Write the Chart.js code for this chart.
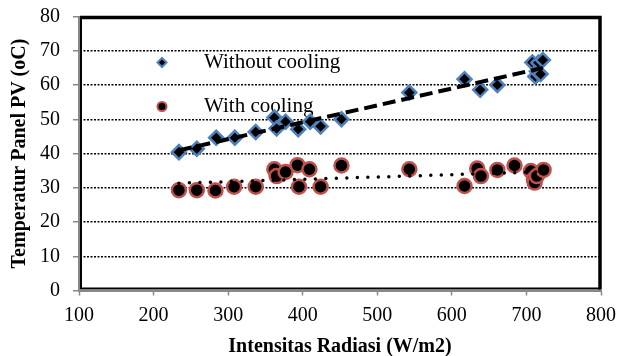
<!DOCTYPE html>
<html>
<head>
<meta charset="utf-8">
<script src="https://cdn.jsdelivr.net/npm/chart.js@4"></script>
<style>
  html, body { margin: 0; padding: 0; background: #fff; }
</style>
</head>
<body>
<canvas id="chartSuhu" width="619" height="356"></canvas>
<script>
/* data */
const radiasiTanpa = [234, 258, 284, 309, 337, 362, 365, 377, 394, 410, 424, 452, 543, 617, 638, 661, 708, 712, 714, 716, 719, 722];
const suhuTanpa = [40.4, 41.4, 44.6, 44.6, 46.3, 50.5, 47.3, 49.3, 47.1, 49.3, 47.9, 50.0, 57.8, 61.7, 58.6, 60.0, 66.6, 62.5, 64.0, 66.5, 63.2, 67.3];

const radiasiDengan = [234, 258, 283, 308, 337, 362, 365, 377, 393, 395, 409, 424, 452, 543, 617, 634, 639, 661, 684, 706, 710, 711, 714, 723];
const suhuDengan = [29.3, 29.3, 29.2, 30.3, 30.3, 35.4, 33.4, 34.6, 36.6, 30.3, 35.4, 30.3, 36.5, 35.4, 30.5, 35.6, 33.4, 35.2, 36.5, 34.9, 32.5, 31.5, 33.4, 35.2];

const labelTanpa = "Without cooling";
const labelDengan = "With cooling";

const biru = "#4F81BD";
const merah = "#C0504D";
const fontSerif = "'Liberation Serif', 'Times New Roman', serif";

function toPoints(xs, ys) {
    return xs.map((x, i) => ({ x: x, y: ys[i] }));
}

/* linear trendline like Excel, least squares from the series */
function trendLine(xs, ys) {
    const n = xs.length;
    const mx = xs.reduce((a, b) => a + b, 0) / n;
    const my = ys.reduce((a, b) => a + b, 0) / n;
    let sxy = 0, sxx = 0;
    for (let i = 0; i < n; i++) {
        sxy += (xs[i] - mx) * (ys[i] - my);
        sxx += (xs[i] - mx) * (xs[i] - mx);
    }
    const b = sxy / sxx;
    const a = my - b * mx;
    const x0 = Math.min(...xs), x1 = Math.max(...xs);
    return [{ x: x0, y: a + b * x0 }, { x: x1, y: a + b * x1 }];
}

/* frame around plot area + legend inside plot */
const framePlugin = {
    id: "frameLegend",
    beforeDatasetsDraw(chart) {
        const ctx = chart.ctx;
        const a = chart.chartArea;
        ctx.save();
        ctx.strokeStyle = "#000";
        ctx.lineWidth = 2;
        ctx.beginPath();
        ctx.moveTo(a.left + 2, a.top);
        ctx.lineTo(a.left + 2, a.bottom - 2);
        ctx.lineTo(a.right, a.bottom - 2);
        ctx.stroke();
        ctx.lineWidth = 3.5;
        ctx.beginPath();
        ctx.moveTo(a.left + 1, a.top + 1);
        ctx.lineTo(a.right - 1, a.top + 1);
        ctx.lineTo(a.right - 1, a.bottom - 1);
        ctx.stroke();

        // legend
        const lx = a.left + 83;
        const tx = a.left + 125;
        const y1 = a.top + 46;
        const y2 = a.top + 90;
        ctx.fillStyle = "#000";
        ctx.lineWidth = 2;
        ctx.strokeStyle = biru;
        ctx.beginPath();
        ctx.moveTo(lx, y1 - 4.5);
        ctx.lineTo(lx + 4.5, y1);
        ctx.lineTo(lx, y1 + 4.5);
        ctx.lineTo(lx - 4.5, y1);
        ctx.closePath();
        ctx.fill();
        ctx.stroke();
        ctx.strokeStyle = merah;
        ctx.beginPath();
        ctx.arc(lx, y2, 4.5, 0, Math.PI * 2);
        ctx.fill();
        ctx.stroke();

        ctx.font = "21px " + fontSerif;
        ctx.textBaseline = "middle";
        ctx.textAlign = "left";
        ctx.fillText(labelTanpa, tx, y1);
        ctx.fillText(labelDengan, tx, y2);
        ctx.restore();
    }
};

new Chart("chartSuhu", {
    type: "scatter",
    data: {
        datasets: [
            {
                label: "Trend without cooling",
                type: "line",
                data: trendLine(radiasiTanpa, suhuTanpa),
                borderColor: "#000",
                borderWidth: 4,
                borderDash: [13, 6],
                pointRadius: 0,
                fill: false,
                order: 0
            },
            {
                label: "Trend with cooling",
                type: "line",
                data: trendLine(radiasiDengan, suhuDengan),
                borderColor: "#000",
                borderWidth: 3.5,
                borderDash: [0, 10.5],
                borderCapStyle: "round",
                pointRadius: 0,
                fill: false,
                order: 0
            },
            {
                label: labelTanpa,
                data: toPoints(radiasiTanpa, suhuTanpa),
                pointStyle: "rectRot",
                pointRadius: 7,
                backgroundColor: "#000",
                borderColor: biru,
                borderWidth: 2.5,
                order: 1
            },
            {
                label: labelDengan,
                data: toPoints(radiasiDengan, suhuDengan),
                pointStyle: "circle",
                pointRadius: 7,
                backgroundColor: "#000",
                borderColor: merah,
                borderWidth: 2.5,
                order: 1
            }
        ]
    },
    options: {
        responsive: false,
        animation: false,
        layout: {
            autoPadding: false,
            padding: { left: 0, right: 18, top: 16.5, bottom: 0 }
        },
        plugins: {
            legend: { display: false },
            tooltip: { enabled: false }
        },
        scales: {
            x: {
                type: "linear",
                min: 100,
                max: 800,
                afterFit(scale) {
                    scale.height = 65.5;
                    scale.paddingLeft = 0;
                    scale.paddingRight = 0;
                },
                ticks: {
                    stepSize: 100,
                    color: "#000",
                    padding: 8,
                    font: { family: fontSerif, size: 20 }
                },
                grid: {
                    drawOnChartArea: false,
                    tickLength: 5,
                    tickColor: "#888",
                    tickWidth: 1.5
                },
                border: { color: "#888", width: 2 },
                title: {
                    display: true,
                    text: "Intensitas Radiasi (W/m2)",
                    color: "#000",
                    padding: { top: 0, bottom: -3 },
                    font: { family: fontSerif, size: 20, weight: "bold" }
                }
            },
            y: {
                min: 0,
                max: 80,
                afterFit(scale) {
                    scale.width = 79;
                    scale.paddingTop = 0;
                    scale.paddingBottom = 0;
                },
                ticks: {
                    stepSize: 10,
                    color: "#000",
                    padding: 13,
                    font: { family: fontSerif, size: 20 }
                },
                grid: {
                    color: "#000",
                    lineWidth: 1.5,
                    tickLength: 6,
                    tickColor: "#888",
                    tickWidth: 1.5
                },
                border: { color: "#888", width: 2, dash: [2, 1.5] },
                title: {
                    display: true,
                    text: "Temperatur Panel PV (oC)",
                    color: "#000",
                    padding: { top: 8, bottom: 0 },
                    font: { family: fontSerif, size: 20, weight: "bold" }
                }
            }
        }
    },
    plugins: [framePlugin]
});
</script>
</body>
</html>
